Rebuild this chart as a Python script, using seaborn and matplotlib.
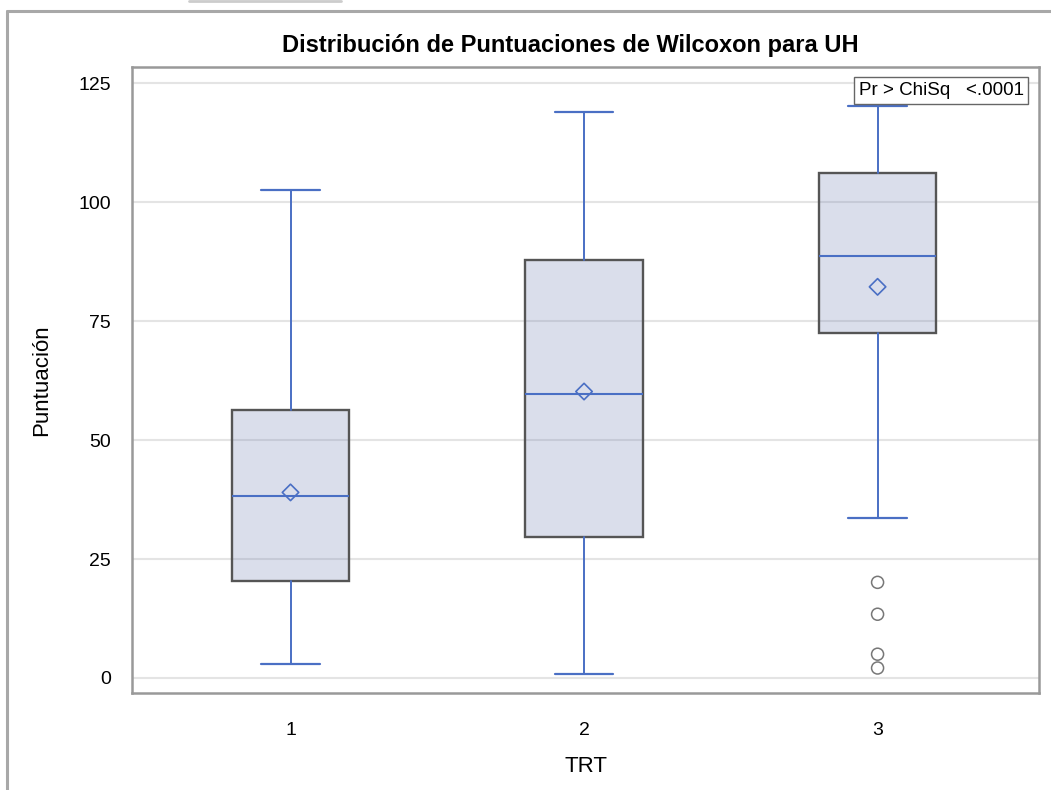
import numpy as np
import pandas as pd
import seaborn as sns
import matplotlib.pyplot as plt
from matplotlib.lines import Line2D

# five-number summaries
groups = ["1", "2", "3"]
whisker_low = [2.9, 0.8, 33.6]
q1 = [20.3, 29.6, 72.6]
median = [38.2, 59.6, 88.7]
q3 = [56.4, 87.9, 106.1]
whisker_high = [102.5, 118.9, 120.2]
means = [39.0, 60.2, 82.2]

# outliers for group 3
outlier_group = ["3", "3", "3", "3"]
outlier_vals = [20.1, 13.4, 5.0, 2.1]

sns.set_theme(style="white")
plt.rcParams['font.family'] = ['Liberation Sans', 'DejaVu Sans']
plt.rcParams['text.color'] = 'black'
plt.rcParams['axes.labelcolor'] = 'black'

blue = "#4a6fc4"
edge = "#555555"

fig = plt.figure(figsize=(10.51, 7.9), dpi=100)
ax = fig.add_axes([0.1256, 0.1228, 0.9886 - 0.1256, 0.9152 - 0.1228])

pos = np.arange(len(groups))
stats = []
for i, g in enumerate(groups):
    stats.append(dict(label=g, whislo=whisker_low[i], q1=q1[i], med=median[i],
                      q3=q3[i], whishi=whisker_high[i], fliers=[]))

ax.bxp(stats, positions=pos, widths=0.4, showfliers=False, patch_artist=True,
       boxprops=dict(facecolor=(0.435, 0.494, 0.70, 0.25), edgecolor=edge, linewidth=1.7),
       whiskerprops=dict(color=blue, linewidth=1.4),
       capprops=dict(color=blue, linewidth=1.6),
       medianprops=dict(color=blue, linewidth=1.5),
       capwidths=0.2, zorder=3)

mean_df = pd.DataFrame({"pos": pos, "mean": means})
sns.scatterplot(data=mean_df, x="pos", y="mean", marker="D", s=70,
                facecolor="none", edgecolor=blue, linewidth=1.2, ax=ax, zorder=4)

out_df = pd.DataFrame({"pos": [groups.index(g) for g in outlier_group], "val": outlier_vals})
sns.scatterplot(data=out_df, x="pos", y="val", marker="o", s=75,
                facecolor="none", edgecolor="#777777", linewidth=1.1, ax=ax, zorder=4)

ax.set_xlim(-0.54, 2.55)
ax.set_ylim(-3.15, 128.4)
ax.set_yticks([0, 25, 50, 75, 100, 125])
ax.set_xticks(pos)
ax.set_xticklabels(groups)
ax.yaxis.grid(True, color="#e4e4e4", linewidth=1.5, zorder=0)
ax.set_axisbelow(True)

for sp in ax.spines.values():
    sp.set_color("#999999")
    sp.set_linewidth(1.8)

ax.tick_params(axis="both", which="both", direction="out", length=7, width=1.2,
               color="#888888", labelsize=14, labelcolor="black", pad=8)
ax.tick_params(axis="x", pad=14)

ax.set_xlabel("TRT", fontsize=16, labelpad=12)
ax.set_ylabel("Puntuación", fontsize=16, labelpad=19)
ax.set_title("Distribución de Puntuaciones de Wilcoxon para UH", x=0.483,
             fontsize=17, fontweight="bold", pad=11, color="black")

ax.text(0.983, 0.976, "Pr > ChiSq   <.0001", transform=ax.transAxes,
        ha="right", va="top", fontsize=13.5, zorder=5,
        bbox=dict(boxstyle="square,pad=0.25", facecolor="white",
                  edgecolor="#666666", linewidth=1.0))

# outer frame of the output window
fig.add_artist(Line2D([7 / 1051, 1], [1 - 11 / 790, 1 - 11 / 790],
                      transform=fig.transFigure, color="#a8a8a8", linewidth=2.2))
fig.add_artist(Line2D([7 / 1051, 7 / 1051], [0, 1 - 11 / 790],
                      transform=fig.transFigure, color="#a8a8a8", linewidth=2.2))
fig.add_artist(Line2D([189 / 1051, 341 / 1051], [1 - 1 / 790, 1 - 1 / 790],
                      transform=fig.transFigure, color="#cccccc", linewidth=2))

fig.savefig("out.png", dpi=100)
